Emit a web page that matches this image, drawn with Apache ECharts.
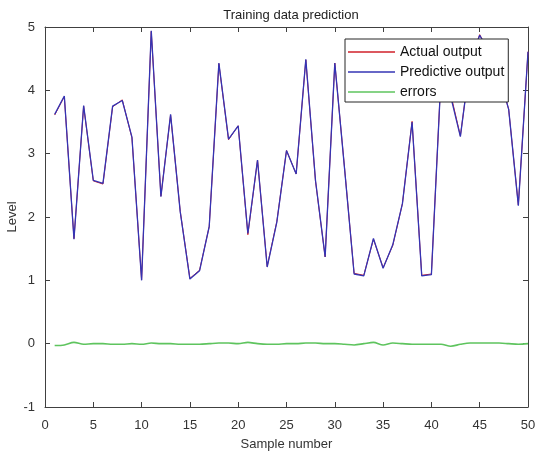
<!DOCTYPE html>
<html>
<head>
<meta charset="utf-8">
<script src="https://cdn.jsdelivr.net/npm/echarts@6/dist/echarts.min.js"></script>
<style>
  html, body { margin: 0; padding: 0; background: #fff; }
  #chart { width: 536px; height: 454px; }
</style>
</head>
<body>
<div id="chart"></div>
<script>
// sample numbers 1..50
var samples = [1,2,3,4,5,6,7,8,9,10,11,12,13,14,15,16,17,18,19,20,
  21,22,23,24,25,26,27,28,29,30,31,32,33,34,35,36,37,38,39,40,
  41,42,43,44,45,46,47,48,49,50];

var actualOutput = [3.61, 3.90, 1.66, 3.75, 2.57, 2.52, 3.74, 3.85, 3.25, 1.01,
  4.93, 2.33, 3.61, 2.09, 1.03, 1.16, 1.85, 4.42, 3.22, 3.44,
  1.72, 2.90, 1.22, 1.93, 3.05, 2.68, 4.48, 2.57, 1.37, 4.43,
  2.79, 1.11, 1.08, 1.65, 1.20, 1.55, 2.21, 3.51, 1.08, 1.10,
  4.24, 3.94, 3.28, 4.44, 4.88, 4.59, 4.24, 3.70, 2.19, 4.61];

var predictiveOutput = [3.62, 3.91, 1.65, 3.76, 2.58, 2.53, 3.75, 3.84, 3.26, 1.00,
  4.94, 2.32, 3.62, 2.08, 1.02, 1.15, 1.85, 4.43, 3.23, 3.44,
  1.74, 2.90, 1.21, 1.92, 3.05, 2.68, 4.49, 2.58, 1.37, 4.43,
  2.78, 1.10, 1.07, 1.66, 1.19, 1.56, 2.21, 3.50, 1.07, 1.09,
  4.23, 3.90, 3.27, 4.45, 4.87, 4.60, 4.25, 3.70, 2.18, 4.61];

var errors = [-0.03, -0.02, 0.02, -0.01, 0.00, 0.00, -0.01, -0.01, 0.00, -0.01,
  0.01, 0.00, 0.00, -0.01, -0.01, -0.01, 0.00, 0.01, 0.01, 0.00,
  0.02, 0.00, -0.01, -0.01, 0.00, 0.00, 0.01, 0.01, 0.00, 0.00,
  -0.01, -0.02, 0.00, 0.02, -0.02, 0.01, 0.00, -0.01, -0.01, -0.01,
  -0.01, -0.04, -0.01, 0.01, 0.01, 0.01, 0.01, 0.00, -0.01, 0.00];

function pairs(ys) {
  return samples.map(function (x, i) { return [x, ys[i]]; });
}

var axisColor = '#404040';
var font = 'Liberation Sans, Arial, sans-serif';

var chart = echarts.init(document.getElementById('chart'), null, { renderer: 'canvas' });

var option = {
  backgroundColor: '#ffffff',
  animation: false,
  title: {
    text: 'Training data prediction',
    left: 286,
    top: 4,
    textAlign: 'center',
    textStyle: { color: '#222', fontSize: 13, fontWeight: 'normal', fontFamily: font }
  },
  legend: {
    orient: 'vertical',
    left: 345,
    top: 39,
    padding: [5, 4, 2, 3],
    icon: 'rect',
    itemWidth: 47,
    itemHeight: 1.5,
    itemGap: 4,
    backgroundColor: '#fff',
    borderColor: '#262626',
    borderWidth: 1,
    borderRadius: 0,
    textStyle: { color: '#111', fontSize: 14, fontFamily: font, lineHeight: 16 },
    data: ['Actual output', 'Predictive output', 'errors']
  },
  grid: { left: 45, right: 8, top: 27, bottom: 47, outerBoundsMode: 'none', containLabel: false },
  xAxis: [{
    type: 'value',
    min: 0, max: 50, interval: 5,
    position: 'bottom',
    name: 'Sample number',
    nameLocation: 'middle',
    nameGap: 31,
    nameMoveOverlap: false,
    nameTextStyle: { color: '#333', fontSize: 13, fontFamily: font },
    axisLine: { onZero: false, lineStyle: { color: axisColor, width: 1 } },
    axisTick: { inside: true, length: 5, lineStyle: { color: axisColor } },
    axisLabel: { color: '#333', fontSize: 13, fontFamily: font, margin: 12 },
    splitLine: { show: false }
  }, {
    type: 'value',
    min: 0, max: 50, interval: 5,
    position: 'top',
    axisLine: { onZero: false, lineStyle: { color: axisColor, width: 1 } },
    axisTick: { inside: true, length: 5, lineStyle: { color: axisColor } },
    axisLabel: { show: false },
    splitLine: { show: false }
  }],
  yAxis: [{
    type: 'value',
    min: -1, max: 5, interval: 1,
    position: 'left',
    name: 'Level',
    nameLocation: 'middle',
    nameGap: 26,
    nameMoveOverlap: false,
    nameTextStyle: { color: '#333', fontSize: 13, fontFamily: font },
    axisLine: { show: true, onZero: false, lineStyle: { color: axisColor, width: 1 } },
    axisTick: { show: true, inside: true, length: 5, lineStyle: { color: axisColor } },
    axisLabel: { color: '#333', fontSize: 13, fontFamily: font, margin: 10 },
    splitLine: { show: false }
  }, {
    type: 'value',
    min: -1, max: 5, interval: 1,
    position: 'right',
    axisLine: { show: true, onZero: false, lineStyle: { color: axisColor, width: 1 } },
    axisTick: { show: true, inside: true, length: 5, lineStyle: { color: axisColor } },
    axisLabel: { show: false },
    splitLine: { show: false }
  }],
  series: [{
    name: 'Actual output',
    type: 'line',
    symbol: 'none',
    data: pairs(actualOutput),
    lineStyle: { color: '#d0202a', width: 1 },
    itemStyle: { color: '#d0202a' },
    z: 2
  }, {
    name: 'Predictive output',
    type: 'line',
    symbol: 'none',
    data: pairs(predictiveOutput),
    lineStyle: { color: '#3434b4', width: 1.3 },
    itemStyle: { color: '#3434b4' },
    z: 3
  }, {
    name: 'errors',
    type: 'line',
    symbol: 'none',
    smooth: 0.3,
    data: pairs(errors),
    lineStyle: { color: '#5ec45e', width: 1.6 },
    itemStyle: { color: '#5ec45e' },
    z: 4
  }]
};

chart.setOption(option);
</script>
</body>
</html>
